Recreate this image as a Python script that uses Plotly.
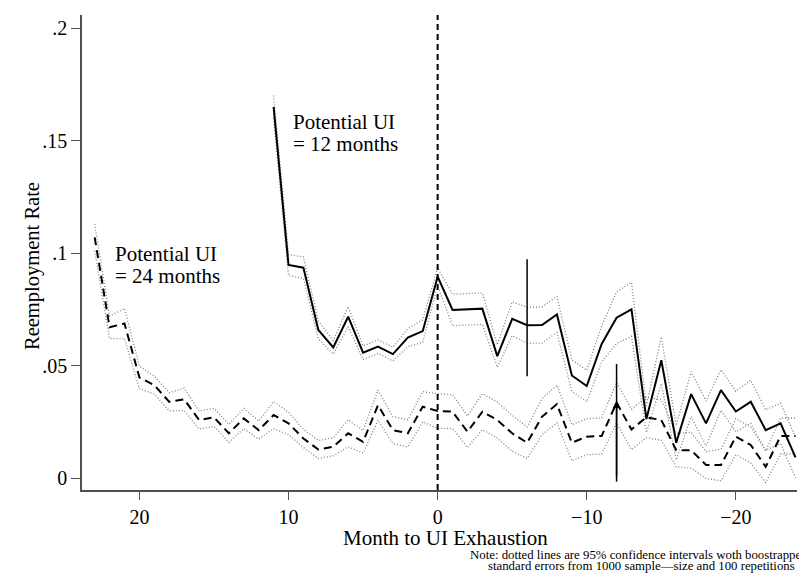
import plotly.graph_objects as go

# Months relative to UI exhaustion (positive = before exhaustion)
months_12 = list(range(11, -25, -1))
months_24 = list(range(23, -25, -1))

# Reemployment rate, potential UI = 12 months
rate_12 = [0.165, 0.0947, 0.0935, 0.0658, 0.0581, 0.0717, 0.0557, 0.0584, 0.0551, 0.0624,
           0.0653, 0.0895, 0.0747, 0.0751, 0.0753, 0.0542, 0.0708, 0.0679, 0.068, 0.0727,
           0.0456, 0.0409, 0.0596, 0.0713, 0.075, 0.0262, 0.0524, 0.0157, 0.0373, 0.0243,
           0.0391, 0.0296, 0.0339, 0.0213, 0.0243, 0.0092]
# 95% CI half-widths (bootstrap), potential UI = 12 months
ci_half_12 = [0.005, 0.0047, 0.0047, 0.004, 0.003, 0.0045, 0.003, 0.003, 0.003, 0.004,
              0.005, 0.004, 0.007, 0.007, 0.007, 0.005, 0.0075, 0.008, 0.008, 0.008,
              0.007, 0.007, 0.008, 0.0115, 0.012, 0.006, 0.0104, 0.0077, 0.01, 0.01,
              0.009, 0.009, 0.0096, 0.009, 0.009, 0.009]

# Reemployment rate, potential UI = 24 months
rate_24 = [0.107, 0.067, 0.0687, 0.0447, 0.0413, 0.0339, 0.035, 0.0258, 0.027, 0.0199,
           0.0265, 0.0213, 0.028, 0.0243, 0.0176, 0.0127, 0.0139, 0.0199, 0.0161, 0.0324,
           0.0213, 0.0199, 0.0317, 0.0298, 0.0295, 0.0206, 0.0295, 0.0258, 0.0199, 0.0157,
           0.0273, 0.0329, 0.0157, 0.0184, 0.0187, 0.0335, 0.0216, 0.027, 0.0258, 0.0124,
           0.0124, 0.0058, 0.0058, 0.0184, 0.0147, 0.005, 0.0187, 0.0187]
# 95% CI half-widths (bootstrap), potential UI = 24 months
ci_half_24 = [0.006, 0.005, 0.0067, 0.005, 0.004, 0.004, 0.005, 0.004, 0.004, 0.004,
              0.0045, 0.004, 0.006, 0.005, 0.004, 0.004, 0.004, 0.006, 0.005, 0.0067,
              0.006, 0.006, 0.0067, 0.0077, 0.0075, 0.007, 0.008, 0.008, 0.008, 0.007,
              0.008, 0.0084, 0.008, 0.008, 0.008, 0.009, 0.009, 0.009, 0.009, 0.0074,
              0.008, 0.006, 0.007, 0.008, 0.008, 0.007, 0.008, 0.008]

x_ticks = [20, 10, 0, -10, -20]
x_ticktext = ["20", "10", "0", "\u221210", "\u221220"]
y_ticks = [0, 0.05, 0.1, 0.15, 0.2]
y_ticktext = ["0", ".05", ".1", ".15", ".2"]

FONT = "Liberation Serif"
CI_STYLE = dict(color="rgb(130,130,130)", width=1.3, dash="1px,2px")

# Plot-area geometry in pixels (used to place paper-referenced text)
L, T, W, H = 82, 15, 715, 475


def px_x(px):
    return (px - L) / W


def px_y(py):
    return 1 - (py - T) / H


fig = go.Figure()

for months, rate, half in [(months_12, rate_12, ci_half_12), (months_24, rate_24, ci_half_24)]:
    upper = [r + h for r, h in zip(rate, half)]
    lower = [r - h for r, h in zip(rate, half)]
    fig.add_trace(go.Scatter(x=months, y=upper, mode="lines", line=CI_STYLE, hoverinfo="skip"))
    fig.add_trace(go.Scatter(x=months, y=lower, mode="lines", line=CI_STYLE, hoverinfo="skip"))

fig.add_trace(go.Scatter(x=months_24, y=rate_24, mode="lines",
                         line=dict(color="black", width=2, dash="8px,5px"), name="24 months"))
fig.add_trace(go.Scatter(x=months_12, y=rate_12, mode="lines",
                         line=dict(color="black", width=2), name="12 months"))

# UI exhaustion marker
fig.add_shape(type="line", xref="x", yref="paper", x0=0, x1=0, y0=0, y1=1,
              line=dict(color="black", width=2, dash="6px,4px"))
# Vertical markers
fig.add_shape(type="line", xref="x", yref="y", x0=-6, x1=-6, y0=0.0453, y1=0.0972,
              line=dict(color="black", width=1.5))
fig.add_shape(type="line", xref="x", yref="y", x0=-12, x1=-12, y0=-0.0016, y1=0.0507,
              line=dict(color="black", width=1.5))
fig.add_annotation(x=-12, y=0.0345, ax=-12, ay=0.0, xref="x", yref="y", axref="x", ayref="y",
                   text="", showarrow=True, arrowhead=2, arrowsize=1, arrowwidth=1.5,
                   arrowcolor="black", standoff=0)

txt = dict(font=dict(family=FONT, size=21, color="black"), showarrow=False,
           xanchor="left", yanchor="middle", xref="x", yref="y")
fig.add_annotation(x=9.85, y=0.1582, text="Potential UI", **txt)
fig.add_annotation(x=9.85, y=0.1486, text="= 12 months", **txt)
fig.add_annotation(x=21.8, y=0.0996, text="Potential UI", **txt)
fig.add_annotation(x=21.8, y=0.0900, text="= 24 months", **txt)

# Axis titles
fig.add_annotation(x=px_x(445.5), y=px_y(538), xref="paper", yref="paper",
                   xanchor="center", yanchor="middle",
                   text="Month to UI Exhaustion", showarrow=False,
                   font=dict(family=FONT, size=21, color="black"))
fig.add_annotation(x=px_x(32), y=px_y(266), xref="paper", yref="paper",
                   text="Reemployment Rate", textangle=-90, showarrow=False,
                   xanchor="center", yanchor="middle",
                   font=dict(family=FONT, size=20.5, color="black"))

# Note
note = dict(xref="paper", yref="paper", showarrow=False, xanchor="left", yanchor="middle",
            font=dict(family=FONT, size=12.8, color="black"))
fig.add_annotation(x=px_x(468), y=px_y(555),
                   text="Note: dotted lines are 95% confidence intervals woth boostrapped", **note)
fig.add_annotation(x=px_x(486), y=px_y(566),
                   text="standard errors from 1000 sample\u2014size and 100 repetitions", **note)

fig.update_layout(
    width=799, height=580,
    margin=dict(l=L, r=799 - L - W, t=T, b=580 - T - H),
    paper_bgcolor="white", plot_bgcolor="white",
    showlegend=False,
    font=dict(family=FONT, size=20, color="black"),
    xaxis=dict(range=[23.85, -24.1], tickvals=x_ticks, ticktext=x_ticktext,
               showgrid=False, zeroline=False, showline=True, linecolor="rgb(80,80,80)",
               linewidth=1.5, ticks="outside", ticklen=8, tickcolor="rgb(80,80,80)",
               tickfont=dict(family=FONT, size=20, color="black")),
    yaxis=dict(range=[-0.0053, 0.2058], tickvals=y_ticks, ticktext=y_ticktext,
               showgrid=False, zeroline=False, showline=True, linecolor="rgb(80,80,80)",
               linewidth=1.5, ticks="outside", ticklen=9, tickcolor="rgb(80,80,80)",
               tickfont=dict(family=FONT, size=20, color="black")),
)

fig.write_html("out.html")
